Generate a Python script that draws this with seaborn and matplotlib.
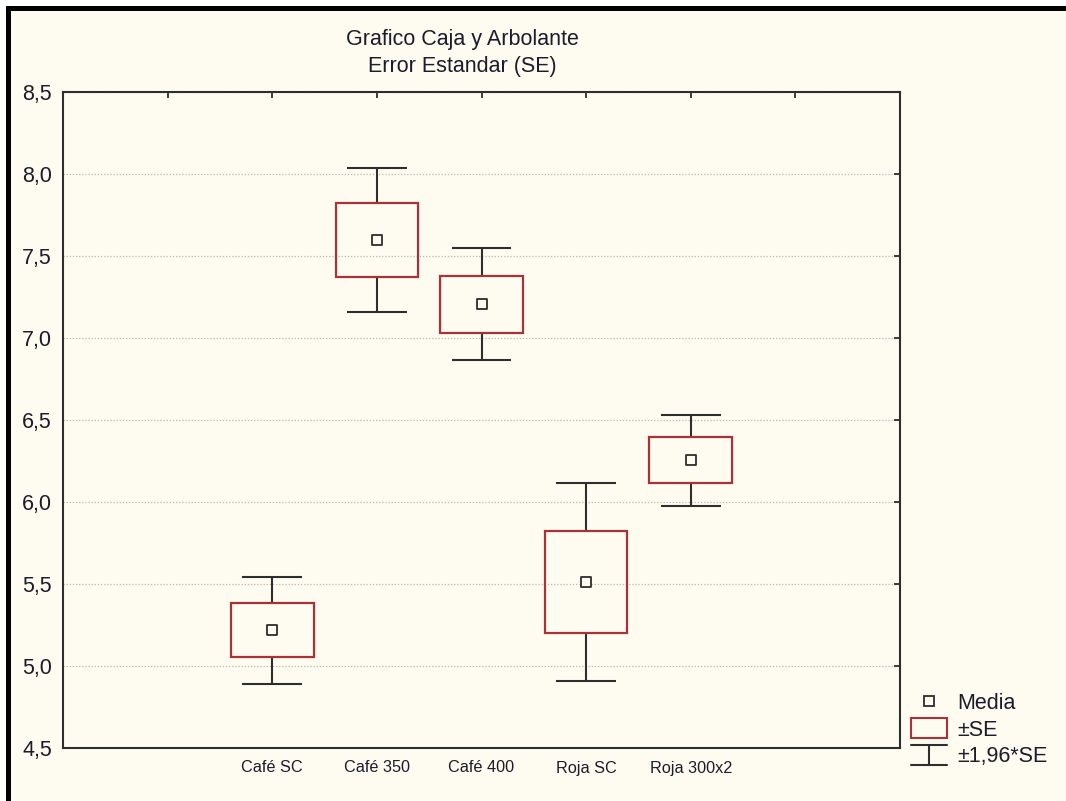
import matplotlib
matplotlib.use("Agg")
import matplotlib.pyplot as plt
import seaborn as sns
import numpy as np
import pandas as pd
from matplotlib.patches import Rectangle
from matplotlib.lines import Line2D
from matplotlib.legend_handler import HandlerBase
from matplotlib.ticker import FuncFormatter

# Group means and their standard errors
categories = ["Café SC", "Café 350", "Café 400", "Roja SC", "Roja 300x2"]
means = [5.218, 7.598, 7.207, 5.512, 6.254]
std_errors = [0.166, 0.224, 0.174, 0.309, 0.141]
z_factor = 1.96

title_lines = ["Grafico Caja y Arbolante", "Error Estandar (SE)"]
legend_labels = ["Media", "±SE", "±1,96*SE"]
y_ticks = [4.5, 5.0, 5.5, 6.0, 6.5, 7.0, 7.5, 8.0, 8.5]

BG = "#FEFBF0"
RED = "#A83236"
DARK = "#2E2E2E"
TXT = "#1C1C2A"

df = pd.DataFrame({"grupo": categories, "media": means, "se": std_errors})
df["pos"] = np.arange(len(df))
df["box_lo"] = df["media"] - df["se"]
df["box_hi"] = df["media"] + df["se"]
df["wh_lo"] = df["media"] - z_factor * df["se"]
df["wh_hi"] = df["media"] + z_factor * df["se"]

sns.set_theme(style="white", rc={"axes.facecolor": BG, "figure.facecolor": BG})
plt.rcParams["font.family"] = ["Liberation Sans", "DejaVu Sans"]

W, H = 1066, 801
fig = plt.figure(figsize=(W / 100, H / 100), dpi=100)
ax = fig.add_axes([63 / W, 1 - 748 / H, (900 - 63) / W, (748 - 92) / H])

# whiskers (±1.96 SE) with caps
ax.vlines(df["pos"], df["box_hi"], df["wh_hi"], color=DARK, lw=1.5, zorder=2)
ax.vlines(df["pos"], df["wh_lo"], df["box_lo"], color=DARK, lw=1.5, zorder=2)
cap = 0.285
ax.hlines(df["wh_hi"], df["pos"] - cap, df["pos"] + cap, color=DARK, lw=1.5, zorder=2)
ax.hlines(df["wh_lo"], df["pos"] - cap, df["pos"] + cap, color=DARK, lw=1.5, zorder=2)

# boxes (±SE)
ax.bar(df["pos"], df["box_hi"] - df["box_lo"], bottom=df["box_lo"], width=0.79,
       facecolor="none", edgecolor=RED, linewidth=1.6, zorder=3)

# means
sns.scatterplot(data=df, x="pos", y="media", marker="s", s=48, color=BG,
                edgecolor=DARK, linewidth=1.3, ax=ax, zorder=4, legend=False)

ax.set_xlim(-2, 6)
ax.set_ylim(4.5, 8.5)
ax.set_xticks(np.arange(-1, 6))
ax.set_xticklabels([""] + categories + [""], fontsize=11.7, color=TXT)
ax.set_yticks(y_ticks)
ax.yaxis.set_major_formatter(FuncFormatter(lambda v, p: f"{v:.1f}".replace(".", ",")))
ax.tick_params(axis="y", labelsize=15.5, labelcolor=TXT, pad=8)
ax.tick_params(axis="x", pad=9)
ax.tick_params(direction="in", length=4, width=1.3, color=DARK, top=True, right=True)
ax.set_xlabel("")
ax.set_ylabel("")

ax.set_axisbelow(True)
ax.yaxis.grid(True, linestyle=(0, (1, 1.5)), color="#B8B8B8", linewidth=0.9)
ax.xaxis.grid(False)
for sp in ax.spines.values():
    sp.set_color(DARK)
    sp.set_linewidth(1.5)

fig.text(462 / W, 1 - 53 / H, "\n".join(title_lines), ha="center", va="center",
         fontsize=15.5, color=TXT, linespacing=1.42)


class HandlerIBeam(HandlerBase):
    def create_artists(self, legend, orig_handle, xdescent, ydescent, width,
                       height, fontsize, trans):
        x0 = -xdescent
        x1 = x0 + width
        xm = 0.5 * (x0 + x1)
        y0 = -ydescent - 0.05 * height
        y1 = -ydescent + 0.95 * height
        kw = dict(color=DARK, lw=1.5, transform=trans)
        return [Line2D([x0, x1], [y1, y1], **kw),
                Line2D([xm, xm], [y0, y1], **kw),
                Line2D([x0, x1], [y0, y0], **kw)]


class IBeam:
    pass


h_mean = Line2D([], [], marker="s", linestyle="none", markersize=7,
                markerfacecolor=BG, markeredgecolor=DARK, markeredgewidth=1.3)
h_box = Rectangle((0, 0), 1, 1, facecolor="none", edgecolor=RED, linewidth=1.5)
h_wh = IBeam()
leg = ax.legend([h_mean, h_box, h_wh], legend_labels,
                handler_map={IBeam: HandlerIBeam()},
                loc="upper left", bbox_to_anchor=(911 / W, 1 - 692 / H),
                bbox_transform=fig.transFigure, frameon=False, fontsize=15.5,
                handlelength=1.65, handleheight=1.05, handletextpad=0.5,
                labelspacing=0.18, borderpad=0, borderaxespad=0)
for t in leg.get_texts():
    t.set_color(TXT)

# window frame on the top and left edges
fig.add_artist(Rectangle((0, 1 - 6 / H), 1, 6 / H, transform=fig.transFigure,
                         facecolor="white", edgecolor="none", zorder=10))
fig.add_artist(Rectangle((0, 0), 6 / W, 1, transform=fig.transFigure,
                         facecolor="white", edgecolor="none", zorder=10))
fig.add_artist(Rectangle((6 / W, 1 - 11 / H), 1, 5 / H, transform=fig.transFigure,
                         facecolor="black", edgecolor="none", zorder=11))
fig.add_artist(Rectangle((6 / W, 0), 5 / W, 1 - 6 / H, transform=fig.transFigure,
                         facecolor="black", edgecolor="none", zorder=11))

fig.savefig("out.png", dpi=100, facecolor=BG)
